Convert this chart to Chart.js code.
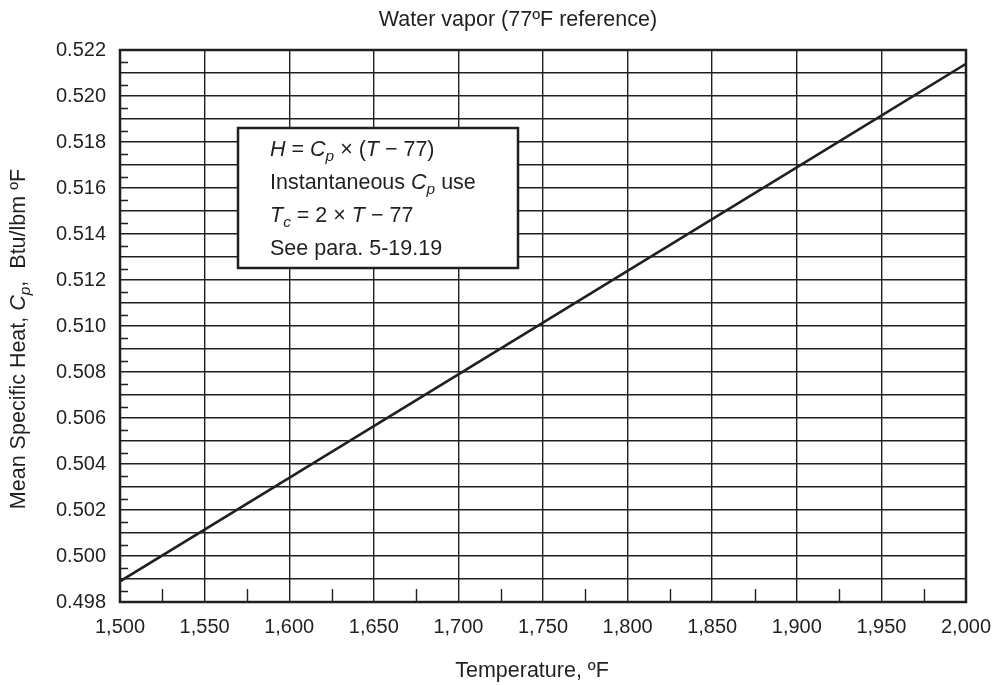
<!DOCTYPE html>
<html lang="en">
<head>
    <meta charset="UTF-8">
    <title>Water vapor mean specific heat</title>
    <script src="https://cdn.jsdelivr.net/npm/chart.js"></script>
    <style>
        html, body { margin: 0; padding: 0; background: #fff; }
        #wrap { width: 997px; height: 685px; }
    </style>
</head>
<body>
    <div id="wrap"><canvas id="cpChart" width="997" height="685"></canvas></div>

    <script>
        // data
        const temps = [1500, 1600, 1700, 1800, 1900, 2000];
        const cpValues = [0.4989, 0.5034, 0.5079, 0.5124, 0.5169, 0.5214];

        // tick positions
        const xMinorTicks = [1525, 1575, 1625, 1675, 1725, 1775, 1825, 1875, 1925, 1975];
        const yMinorTicks = [0.4985, 0.4995, 0.5005, 0.5015, 0.5025, 0.5035, 0.5045, 0.5055,
                             0.5065, 0.5075, 0.5085, 0.5095, 0.5105, 0.5115, 0.5125, 0.5135,
                             0.5145, 0.5155, 0.5165, 0.5175, 0.5185, 0.5195, 0.5205, 0.5215];

        const chartTitle = "Water vapor (77\u00baF reference)";
        const xTitle = "Temperature, \u00baF";

        const FONT = "'Liberation Sans', Arial, Helvetica, sans-serif";
        const INK = "#231f20";
        const TXT = 21.5;

        // draw a line of text made of normal / italic / subscript pieces
        function drawRich(ctx, parts, x, y, size) {
            let cx = x;
            parts.forEach(p => {
                let s = p.sub ? size * 0.72 : size;
                ctx.font = (p.it ? "italic " : "") + s + "px " + FONT;
                ctx.fillText(p.t, cx, y + (p.sub ? size * 0.25 : 0));
                cx += ctx.measureText(p.t).width;
            });
            return cx - x;
        }
        function richWidth(ctx, parts, size) {
            let w = 0;
            parts.forEach(p => {
                let s = p.sub ? size * 0.72 : size;
                ctx.font = (p.it ? "italic " : "") + s + "px " + FONT;
                w += ctx.measureText(p.t).width;
            });
            return w;
        }

        const extras = {
            id: 'extras',
            afterDatasetsDraw(chart) {
                const ctx = chart.ctx;
                const a = chart.chartArea;
                const xs = chart.scales.x, ys = chart.scales.y;
                ctx.save();

                // inward minor ticks
                ctx.strokeStyle = INK;
                ctx.lineWidth = 1.4;
                ctx.beginPath();
                xMinorTicks.forEach(v => {
                    let px = Math.round(xs.getPixelForValue(v)) + 0.5;
                    ctx.moveTo(px, a.bottom);
                    ctx.lineTo(px, a.bottom - 13);
                });
                yMinorTicks.forEach(v => {
                    let py = Math.round(ys.getPixelForValue(v)) + 0.5;
                    ctx.moveTo(a.left, py);
                    ctx.lineTo(a.left + 8, py);
                });
                ctx.stroke();

                // frame
                ctx.lineWidth = 2.5;
                ctx.strokeRect(a.left, a.top, a.right - a.left, a.bottom - a.top);

                // note box
                ctx.fillStyle = "#fff";
                ctx.fillRect(238, 128, 280, 140);
                ctx.lineWidth = 2.5;
                ctx.strokeStyle = INK;
                ctx.strokeRect(238, 128, 280, 140);

                ctx.fillStyle = INK;
                ctx.textBaseline = "alphabetic";
                ctx.textAlign = "left";
                const boxLines = [
                    [{t: "H", it: 1}, {t: " = "}, {t: "C", it: 1}, {t: "p", it: 1, sub: 1}, {t: " \u00d7 ("}, {t: "T", it: 1}, {t: " \u2212 77)"}],
                    [{t: "Instantaneous "}, {t: "C", it: 1}, {t: "p", it: 1, sub: 1}, {t: " use"}],
                    [{t: "T", it: 1}, {t: "c", it: 1, sub: 1}, {t: " = 2 \u00d7 "}, {t: "T", it: 1}, {t: " \u2212 77"}],
                    [{t: "See para. 5-19.19"}]
                ];
                boxLines.forEach((ln, i) => drawRich(ctx, ln, 270, 156 + i * 33, TXT));

                // chart title
                ctx.font = TXT + "px " + FONT;
                ctx.textAlign = "center";
                ctx.fillText(chartTitle, 518, 26);

                // x axis title
                ctx.fillText(xTitle, 532, 677);

                // y axis title (rotated)
                const yParts = [{t: "Mean Specific Heat, "}, {t: "C", it: 1}, {t: "p", it: 1, sub: 1}, {t: ",  Btu/lbm \u00baF"}];
                ctx.textAlign = "left";
                let w = richWidth(ctx, yParts, TXT);
                ctx.translate(25, 339);
                ctx.rotate(-Math.PI / 2);
                drawRich(ctx, yParts, -w / 2, 0, TXT);

                ctx.restore();
            }
        };

        new Chart(document.getElementById('cpChart'), {
            type: 'line',
            data: {
                datasets: [{
                    data: temps.map((t, i) => ({ x: t, y: cpValues[i] })),
                    borderColor: INK,
                    borderWidth: 2.6,
                    pointRadius: 0,
                    tension: 0
                }]
            },
            options: {
                responsive: false,
                animation: false,
                layout: { padding: { left: 0, top: 50, right: 31, bottom: 0 } },
                plugins: {
                    legend: { display: false },
                    tooltip: { enabled: false },
                    title: { display: false }
                },
                scales: {
                    x: {
                        type: 'linear',
                        min: 1500,
                        max: 2000,
                        ticks: {
                            stepSize: 50,
                            color: INK,
                            padding: 13,
                            font: { family: FONT, size: 20 },
                            maxRotation: 0,
                            autoSkip: false,
                            callback: v => v.toLocaleString('en-US')
                        },
                        grid: { color: INK, lineWidth: 1.4, drawTicks: false },
                        border: { display: false },
                        afterFit: s => { s.height = 83; s.paddingLeft = 0; s.paddingRight = 0; }
                    },
                    y: {
                        min: 0.498,
                        max: 0.522,
                        ticks: {
                            stepSize: 0.001,
                            color: INK,
                            padding: 14,
                            autoSkip: false,
                            font: { family: FONT, size: 20 },
                            callback: v => (Math.round(v * 1000) % 2 === 0) ? v.toFixed(3) : ''
                        },
                        grid: { color: INK, lineWidth: 1.4, drawTicks: false },
                        border: { display: false },
                        afterFit: s => { s.width = 120; s.paddingTop = 0; s.paddingBottom = 0; }
                    }
                }
            },
            plugins: [extras]
        });
    </script>
</body>
</html>
